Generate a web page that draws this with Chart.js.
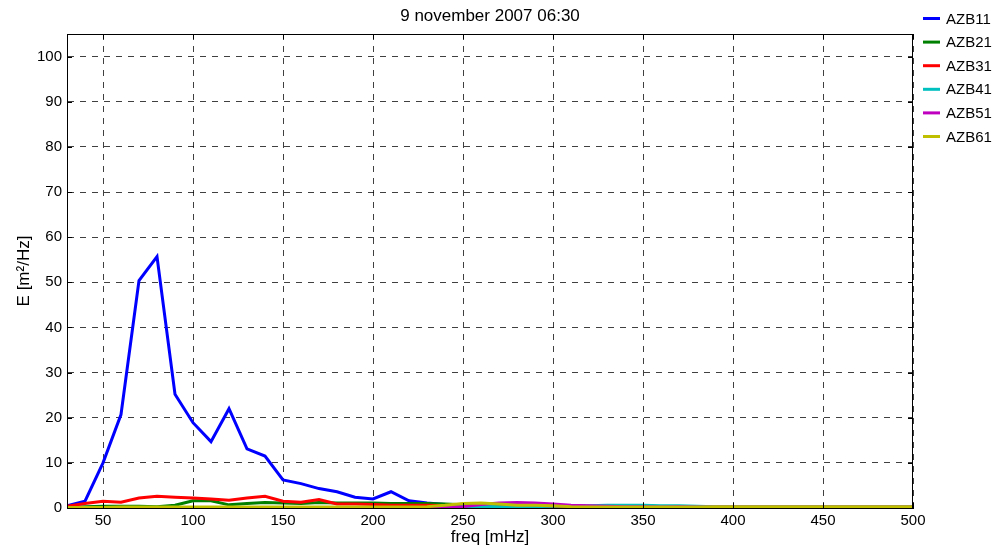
<!DOCTYPE html>
<html>
<head>
<meta charset="utf-8">
<title>AZB spectra</title>
<script src="https://cdn.jsdelivr.net/npm/chart.js@4.4.1/dist/chart.umd.min.js"></script>
<style>
  body { margin: 0; background: #fff; }
  canvas { display: block; }
</style>
</head>
<body>
<canvas id="myChart" width="1004" height="552"></canvas>
<script>
/* frequencies 30..500 mHz, one value every 10 mHz */
const freq = [30,40,50,60,70,80,90,100,110,120,130,140,150,160,170,180,190,200,210,220,230,240,250,260,270,280,290,300,
              310,320,330,340,350,360,370,380,390,400,410,420,430,440,450,460,470,480,490,500];

const azb11 = [0.5,1.5,10,20.7,50.4,55.7,25.2,18.9,14.7,22,13.1,11.5,6.2,5.4,4.3,3.6,2.4,2.0,3.6,1.6,1.1,0.8,0.6,0.4,0.3,0.3,0.2,0.2,
               0.2,0.2,0.2,0.2,0.2,0.2,0.2,0.2,0.2,0.2,0.2,0.2,0.2,0.2,0.2,0.2,0.2,0.2,0.2,0.2];
const azb21 = [0.1,0.3,0.4,0.4,0.4,0.3,0.6,1.6,1.6,0.7,1.0,1.2,1.1,1.0,1.2,1.1,1.1,1.1,1.0,1.0,1.0,0.9,0.7,0.5,0.3,0.2,0.2,0.1,
               0.1,0.1,0.1,0.1,0.1,0.1,0.1,0.1,0.1,0.1,0.1,0.1,0.1,0.1,0.1,0.1,0.1,0.1,0.1,0.1];
const azb31 = [0.4,1.0,1.5,1.3,2.2,2.6,2.4,2.2,2.0,1.7,2.2,2.6,1.5,1.3,1.9,0.9,0.9,0.8,0.6,0.6,0.6,0.5,0.4,0.3,0.2,0.2,0.1,0.1,
               0.05,0.05,0.05,0.05,0.05,0.05,0.05,0.05,0.05,0.05,0.05,0.05,0.05,0.05,0.05,0.05,0.05,0.05,0.05,0.05];
const azb41 = [0.1,0.1,0.1,0.1,0.1,0.1,0.1,0.1,0.1,0.1,0.1,0.1,0.1,0.1,0.1,0.1,0.1,0.1,0.1,0.1,0.1,0.2,0.3,0.4,0.3,0.2,0.3,0.4,
               0.5,0.5,0.6,0.6,0.6,0.5,0.5,0.4,0.3,0.2,0.2,0.2,0.2,0.2,0.2,0.2,0.2,0.2,0.2,0.2];
const azb51 = [0.05,0.05,0.05,0.05,0.05,0.05,0.05,0.05,0.05,0.05,0.05,0.05,0.05,0.05,0.05,0.05,0.05,0.05,0.05,0.05,0.1,0.1,0.3,0.8,1.1,1.2,1.1,0.9,
               0.6,0.5,0.4,0.3,0.3,0.2,0.3,0.2,0.2,0.2,0.2,0.2,0.2,0.2,0.2,0.2,0.2,0.2,0.2,0.2];
const azb61 = [0.1,0.1,0.1,0.2,0.2,0.2,0.2,0.2,0.2,0.2,0.2,0.2,0.2,0.2,0.2,0.2,0.2,0.2,0.2,0.2,0.3,0.6,1.0,1.1,0.9,0.6,0.6,0.5,
               0.3,0.2,0.2,0.2,0.2,0.2,0.2,0.2,0.3,0.3,0.3,0.3,0.3,0.3,0.3,0.3,0.3,0.3,0.3,0.3];

const seriesNames = ['AZB11','AZB21','AZB31','AZB41','AZB51','AZB61'];
const seriesColors = ['#0000ff','#008000','#ff0000','#00bfbf','#bf00bf','#bfbf00'];
const xTicks = [50,100,150,200,250,300,350,400,450,500];
const yTicks = [0,10,20,30,40,50,60,70,80,90,100];
const chartTitle = '9 november 2007 06:30';

const FONT = "'Liberation Sans', Arial, Helvetica, sans-serif";
const allSeries = [azb11, azb21, azb31, azb41, azb51, azb61];

const datasets = allSeries.map(function(vals, i) {
    return {
        label: seriesNames[i],
        data: vals.map(function(v, j) { return {x: freq[j], y: v}; }),
        borderColor: seriesColors[i],
        backgroundColor: seriesColors[i],
        borderWidth: 3,
        pointRadius: 0,
        tension: 0,
        order: 5 - i   // later series on top, like matlab
    };
});

/* frame, inner tick marks, title and legend */
const matlabLook = {
    id: 'matlabLook',
    afterDraw: function(chart) {
        const ctx = chart.ctx;
        const a = chart.chartArea;
        const xs = chart.scales.x, ys = chart.scales.y;
        ctx.save();
        ctx.strokeStyle = '#000';
        ctx.lineWidth = 1;
        ctx.strokeRect(a.left + 0.5, a.top + 0.5, a.right - a.left - 1, a.bottom - a.top);
        ctx.beginPath();
        xTicks.forEach(function(v) {
            const px = Math.round(xs.getPixelForValue(v)) + 0.5;
            ctx.moveTo(px, a.bottom); ctx.lineTo(px, a.bottom - 5);
            ctx.moveTo(px, a.top); ctx.lineTo(px, a.top + 5);
        });
        yTicks.forEach(function(v) {
            const py = Math.round(ys.getPixelForValue(v)) + 0.5;
            ctx.moveTo(a.left, py); ctx.lineTo(a.left + 5, py);
            ctx.moveTo(a.right, py); ctx.lineTo(a.right - 5, py);
        });
        ctx.stroke();

        ctx.fillStyle = '#000';
        ctx.font = '17px ' + FONT;
        ctx.textAlign = 'center';
        ctx.textBaseline = 'middle';
        ctx.fillText(chartTitle, (a.left + a.right) / 2, 16);

        ctx.font = '15px ' + FONT;
        ctx.textAlign = 'left';
        chart.data.datasets.forEach(function(ds, i) {
            const y = 18.5 + i * 23.6;
            ctx.strokeStyle = ds.borderColor;
            ctx.lineWidth = 3;
            ctx.beginPath();
            ctx.moveTo(923, y); ctx.lineTo(940, y);
            ctx.stroke();
            ctx.fillText(ds.label, 946, y + 1);
        });
        ctx.restore();
    }
};

const ctx = document.getElementById('myChart').getContext('2d');
const lineChart = new Chart(ctx, {
    type: 'line',
    data: { datasets: datasets },
    options: {
        responsive: false,
        animation: false,
        layout: { padding: { top: 34, right: 91, left: 0, bottom: 0 } },
        plugins: {
            legend: { display: false },
            title: { display: false },
            tooltip: { enabled: false }
        },
        scales: {
            x: {
                type: 'linear',
                min: 30,
                max: 500,
                afterBuildTicks: function(scale) {
                    scale.ticks = xTicks.map(function(v) { return {value: v}; });
                },
                afterFit: function(scale) { scale.height = 44; },
                grid: { color: 'rgba(0,0,0,0.75)', drawTicks: false },
                border: { display: true, color: '#000', dash: [6, 6] },
                ticks: { color: '#000', padding: 4, maxRotation: 0, font: { family: FONT, size: 15 } },
                title: { display: true, text: 'freq [mHz]', color: '#000', padding: { top: 0, bottom: 4 },
                         font: { family: FONT, size: 17 } }
            },
            y: {
                min: 0,
                max: 105,
                afterBuildTicks: function(scale) {
                    scale.ticks = yTicks.map(function(v) { return {value: v}; });
                },
                afterFit: function(scale) { scale.width = 67; },
                grid: { color: 'rgba(0,0,0,0.75)', drawTicks: false },
                border: { display: true, color: '#000', dash: [6, 6] },
                ticks: { color: '#000', padding: 5, font: { family: FONT, size: 15 } },
                title: { display: true, text: 'E [m²/Hz]', color: '#000', padding: { top: 14, bottom: 0 },
                         font: { family: FONT, size: 17 } }
            }
        }
    },
    plugins: [matlabLook]
});
</script>
</body>
</html>
